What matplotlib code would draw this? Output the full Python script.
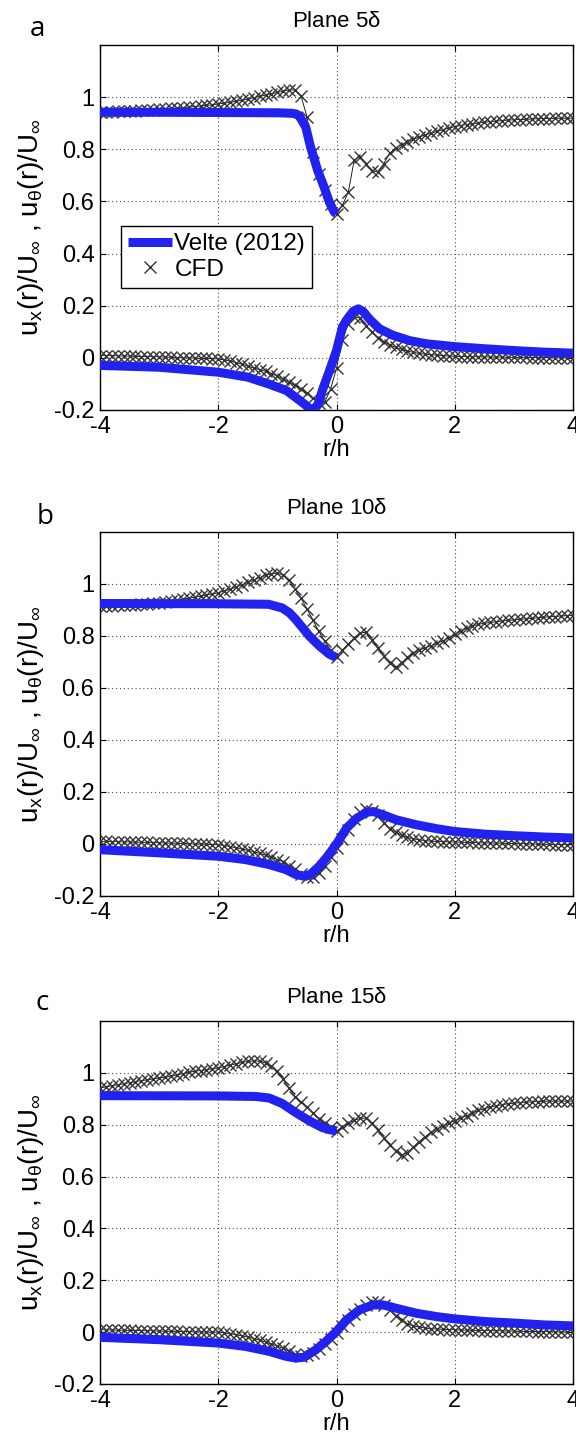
import numpy as np
import matplotlib
matplotlib.use("Agg")
import matplotlib.pyplot as plt

plt.rcParams['font.family'] = ['Liberation Sans', 'DejaVu Sans']
plt.rcParams['mathtext.fontset'] = 'custom'
plt.rcParams['mathtext.rm'] = 'Liberation Sans'
plt.rcParams['mathtext.it'] = 'Liberation Sans:italic'

# CFD samples (r/h grid shared by all planes)
r_cfd = [-4.0, -3.9, -3.8, -3.7, -3.6, -3.5, -3.4, -3.3, -3.2, -3.1,
         -3.0, -2.9, -2.8, -2.7, -2.6, -2.5, -2.4, -2.3, -2.2, -2.1,
         -2.0, -1.9, -1.8, -1.7, -1.6, -1.5, -1.4, -1.3, -1.2, -1.1,
         -1.0, -0.9, -0.8, -0.7, -0.6, -0.5, -0.4, -0.3, -0.2, -0.1,
         0.0, 0.1, 0.2, 0.3, 0.4, 0.5, 0.6, 0.7, 0.8, 0.9,
         1.0, 1.1, 1.2, 1.3, 1.4, 1.5, 1.6, 1.7, 1.8, 1.9,
         2.0, 2.1, 2.2, 2.3, 2.4, 2.5, 2.6, 2.7, 2.8, 2.9,
         3.0, 3.1, 3.2, 3.3, 3.4, 3.5, 3.6, 3.7, 3.8, 3.9, 4.0]

# Plane 5 delta
ux_cfd_5 = [0.942, 0.943, 0.944, 0.945, 0.946, 0.947, 0.948, 0.950, 0.951, 0.952,
            0.954, 0.955, 0.957, 0.958, 0.960, 0.962, 0.964, 0.966, 0.968, 0.971,
            0.974, 0.977, 0.980, 0.984, 0.988, 0.993, 0.998, 1.003, 1.008, 1.013,
            1.018, 1.023, 1.028, 1.027, 1.005, 0.925, 0.790, 0.705, 0.645, 0.592,
            0.552, 0.585, 0.636, 0.760, 0.772, 0.742, 0.718, 0.712, 0.745, 0.785,
            0.805, 0.818, 0.829, 0.838, 0.847, 0.855, 0.862, 0.869, 0.875, 0.881,
            0.887, 0.891, 0.895, 0.898, 0.901, 0.904, 0.906, 0.908, 0.910, 0.912,
            0.913, 0.914, 0.915, 0.916, 0.917, 0.918, 0.918, 0.919, 0.919, 0.919, 0.919]
ut_cfd_5 = [0.009, 0.009, 0.008, 0.008, 0.007, 0.007, 0.006, 0.005, 0.005, 0.004,
            0.004, 0.003, 0.002, 0.001, 0.000, 0.000, -0.001, -0.002, -0.002, -0.003,
            -0.004, -0.008, -0.012, -0.018, -0.024, -0.032, -0.039, -0.045, -0.052, -0.060,
            -0.070, -0.082, -0.094, -0.105, -0.118, -0.135, -0.155, -0.175, -0.170, -0.120,
            -0.040, 0.070, 0.130, 0.158, 0.152, 0.122, 0.098, 0.078, 0.062, 0.050,
            0.040, 0.033, 0.026, 0.021, 0.017, 0.014, 0.012, 0.010, 0.008, 0.007,
            0.006, 0.005, 0.005, 0.004, 0.004, 0.004, 0.003, 0.003, 0.003, 0.002,
            0.002, 0.002, 0.002, 0.001, 0.001, 0.001, 0.001, 0.000, 0.000, 0.000, 0.000]
r_ux_vel_5 = [-4.0, -3.0, -2.0, -1.0, -0.75, -0.68, -0.63, -0.52, -0.44, -0.32, -0.21, -0.12, -0.04, 0.0]
ux_vel_5 = [0.942, 0.942, 0.941, 0.940, 0.938, 0.935, 0.928, 0.885, 0.810, 0.720, 0.655, 0.597, 0.560, 0.552]
r_ut_vel_5 = [-4.0, -3.0, -2.0, -1.5, -1.15, -0.85, -0.7, -0.55, -0.45, -0.38, -0.3, -0.24, -0.12, 0.0,
              0.1, 0.17, 0.28, 0.37, 0.45, 0.56, 0.73, 0.96, 1.24, 1.52, 2.0, 2.5, 3.0, 3.5, 4.0]
ut_vel_5 = [-0.029, -0.036, -0.055, -0.074, -0.100, -0.125, -0.150, -0.176, -0.195, -0.200, -0.172, -0.125,
            -0.050, 0.028, 0.118, 0.145, 0.178, 0.188, 0.178, 0.148, 0.111, 0.086, 0.066, 0.054, 0.043,
            0.035, 0.028, 0.022, 0.018]

# Plane 10 delta
ux_cfd_10 = [0.915, 0.916, 0.917, 0.918, 0.919, 0.920, 0.921, 0.922, 0.923, 0.925,
             0.927, 0.930, 0.933, 0.937, 0.941, 0.945, 0.949, 0.953, 0.958, 0.962,
             0.966, 0.973, 0.980, 0.988, 0.997, 1.006, 1.015, 1.025, 1.033, 1.039,
             1.041, 1.035, 1.015, 0.980, 0.945, 0.905, 0.862, 0.818, 0.780, 0.745,
             0.720, 0.746, 0.770, 0.793, 0.812, 0.814, 0.786, 0.752, 0.722, 0.695,
             0.680, 0.695, 0.718, 0.733, 0.745, 0.755, 0.763, 0.772, 0.781, 0.793,
             0.806, 0.819, 0.830, 0.838, 0.845, 0.849, 0.852, 0.855, 0.858, 0.860,
             0.862, 0.864, 0.866, 0.868, 0.870, 0.872, 0.874, 0.875, 0.877, 0.878, 0.879]
ut_cfd_10 = [0.010, 0.010, 0.009, 0.009, 0.008, 0.008, 0.007, 0.007, 0.006, 0.005,
             0.005, 0.004, 0.003, 0.003, 0.002, 0.001, 0.000, 0.000, -0.001, -0.002,
             -0.003, -0.006, -0.010, -0.014, -0.019, -0.024, -0.030, -0.036, -0.043, -0.051,
             -0.060, -0.069, -0.083, -0.097, -0.114, -0.127, -0.127, -0.112, -0.083, -0.049,
             -0.015, 0.020, 0.055, 0.095, 0.122, 0.133, 0.128, 0.110, 0.080, 0.058,
             0.045, 0.034, 0.025, 0.020, 0.016, 0.013, 0.011, 0.010, 0.009, 0.008,
             0.008, 0.007, 0.006, 0.006, 0.005, 0.004, 0.004, 0.003, 0.003, 0.002,
             0.002, 0.001, 0.001, 0.000, 0.000, -0.001, -0.001, -0.002, -0.002, -0.003, -0.003]
r_ux_vel_10 = [-4.0, -2.0, -1.15, -0.92, -0.8, -0.69, -0.46, -0.29, -0.12, 0.0]
ux_vel_10 = [0.925, 0.924, 0.922, 0.908, 0.890, 0.864, 0.800, 0.762, 0.730, 0.717]
r_ut_vel_10 = [-4.0, -3.0, -2.0, -1.54, -1.14, -0.86, -0.69, -0.55, -0.44, -0.29, -0.15, 0.0,
               0.17, 0.34, 0.51, 0.62, 0.79, 1.01, 1.35, 1.69, 2.0, 2.5, 3.0, 3.5, 4.0]
ut_vel_10 = [-0.022, -0.034, -0.047, -0.060, -0.079, -0.098, -0.117, -0.124, -0.117, -0.085, -0.047, 0.000,
             0.061, 0.099, 0.122, 0.125, 0.112, 0.093, 0.074, 0.059, 0.048, 0.038, 0.032, 0.027, 0.023]

# Plane 15 delta
ux_cfd_15 = [0.942, 0.946, 0.950, 0.954, 0.958, 0.962, 0.966, 0.970, 0.973, 0.977,
             0.980, 0.983, 0.987, 0.992, 0.997, 1.002, 1.006, 1.009, 1.012, 1.016,
             1.019, 1.024, 1.030, 1.035, 1.040, 1.044, 1.046, 1.045, 1.038, 1.026,
             1.006, 0.975, 0.940, 0.908, 0.888, 0.868, 0.845, 0.823, 0.805, 0.790,
             0.776, 0.792, 0.806, 0.817, 0.824, 0.826, 0.806, 0.778, 0.750, 0.722,
             0.700, 0.682, 0.692, 0.714, 0.735, 0.754, 0.770, 0.783, 0.795, 0.805,
             0.815, 0.825, 0.835, 0.845, 0.855, 0.862, 0.868, 0.873, 0.877, 0.881,
             0.883, 0.885, 0.887, 0.888, 0.889, 0.890, 0.891, 0.891, 0.891, 0.891, 0.891]
ut_cfd_15 = [0.009, 0.009, 0.008, 0.008, 0.007, 0.007, 0.006, 0.006, 0.005, 0.005,
             0.004, 0.004, 0.003, 0.003, 0.002, 0.002, 0.001, 0.001, 0.000, 0.000,
             0.000, -0.003, -0.006, -0.010, -0.014, -0.019, -0.025, -0.031, -0.038, -0.046,
             -0.054, -0.063, -0.073, -0.084, -0.092, -0.090, -0.080, -0.064, -0.047, -0.026,
             -0.004, 0.022, 0.047, 0.070, 0.088, 0.105, 0.116, 0.118, 0.106, 0.085,
             0.062, 0.045, 0.032, 0.024, 0.019, 0.016, 0.013, 0.012, 0.011, 0.010,
             0.009, 0.008, 0.008, 0.007, 0.007, 0.006, 0.006, 0.005, 0.005, 0.004,
             0.004, 0.003, 0.003, 0.003, 0.002, 0.002, 0.002, 0.001, 0.001, 0.000, 0.000]
r_ux_vel_15 = [-4.0, -2.0, -1.37, -1.14, -0.92, -0.69, -0.46, -0.24, -0.12, 0.0]
ux_vel_15 = [0.912, 0.911, 0.909, 0.903, 0.882, 0.847, 0.815, 0.789, 0.781, 0.776]
r_ut_vel_15 = [-4.0, -3.0, -2.0, -1.54, -1.14, -0.86, -0.69, -0.55, -0.35, -0.18, 0.0,
               0.17, 0.39, 0.62, 0.79, 1.01, 1.35, 1.69, 2.0, 2.5, 3.0, 3.5, 4.0]
ut_vel_15 = [-0.020, -0.029, -0.042, -0.055, -0.074, -0.093, -0.100, -0.097, -0.068, -0.036, 0.003,
             0.047, 0.086, 0.105, 0.105, 0.092, 0.073, 0.060, 0.051, 0.041, 0.035, 0.028, 0.024]

panels = [
    ("a", r"Plane 5$\mathrm{\delta}$", ux_cfd_5, ut_cfd_5, r_ux_vel_5, ux_vel_5, r_ut_vel_5, ut_vel_5),
    ("b", r"Plane 10$\mathrm{\delta}$", ux_cfd_10, ut_cfd_10, r_ux_vel_10, ux_vel_10, r_ut_vel_10, ut_vel_10),
    ("c", r"Plane 15$\mathrm{\delta}$", ux_cfd_15, ut_cfd_15, r_ux_vel_15, ux_vel_15, r_ut_vel_15, ut_vel_15),
]

W, H = 576, 1443
fig = plt.figure(figsize=(W / 100, H / 100), dpi=100)
fig.patch.set_facecolor('white')

# axes boxes in pixels: (top, bottom)
boxes = [(45, 410), (532, 896), (1021, 1384)]
left_px, right_px = 100, 573
label_pos = [(37, 29), (45, 517), (42, 1003)]

blue = '#2222ee'
ylab = r'u$_\mathrm{x}$(r)/U$_\infty$ , u$_\mathrm{\theta}$(r)/U$_\infty$'

for i, (tag, title, ux_c, ut_c, rux, uxv, rut, utv) in enumerate(panels):
    top, bot = boxes[i]
    ax = fig.add_axes([left_px / W, 1 - bot / H, (right_px - left_px) / W, (bot - top) / H])

    # CFD: thin line with dense crosses, experiment drawn on top
    for yc in (ux_c, ut_c):
        ax.plot(r_cfd, yc, '-', color='black', lw=0.6, zorder=2)
        cfd, = ax.plot(r_cfd, yc, 'x', color='0.2', ms=8.5, mew=1.0, zorder=3)
    vel, = ax.plot(rux, uxv, '-', color=blue, lw=6.5, solid_capstyle='butt', zorder=4)
    ax.plot(rut, utv, '-', color=blue, lw=6.5, solid_capstyle='butt', zorder=4)

    ax.set_xlim(-4, 4)
    ax.set_ylim(-0.2, 1.2)
    ax.set_xticks([-4, -2, 0, 2, 4])
    ax.set_yticks([-0.2, 0, 0.2, 0.4, 0.6, 0.8, 1])
    ax.set_yticklabels(['-0.2', '0', '0.2', '0.4', '0.6', '0.8', '1'])
    ax.set_xticklabels(['-4', '-2', '0', '2', '4'])
    ax.tick_params(direction='in', top=True, right=True, labelsize=17, length=4, pad=4)
    ax.grid(True, color='0.3', linestyle=(0, (1, 2.5)), linewidth=0.8)
    for s in ax.spines.values():
        s.set_linewidth(1.0)

    ax.set_title(title, fontsize=16, pad=13)
    ax.set_xlabel('r/h', fontsize=17, labelpad=1)
    ax.set_ylabel(ylab, fontsize=20)
    ax.yaxis.set_label_coords(-0.115, 0.5)

    fig.text(label_pos[i][0] / W, 1 - label_pos[i][1] / H, tag, fontsize=20,
             family=['Open Sans', 'DejaVu Sans'], ha='center', va='center')

    if i == 0:
        leg = ax.legend([vel, cfd], ['Velte (2012)', 'CFD'], loc='lower left',
                        bbox_to_anchor=(0.044, 0.334), borderaxespad=0, fontsize=17.5,
                        frameon=True, fancybox=False, edgecolor='black', framealpha=1,
                        handlelength=1.8, handletextpad=0.1, borderpad=0.3, labelspacing=0.15)
        leg.get_frame().set_linewidth(1.0)

fig.savefig('out.png', dpi=100)
